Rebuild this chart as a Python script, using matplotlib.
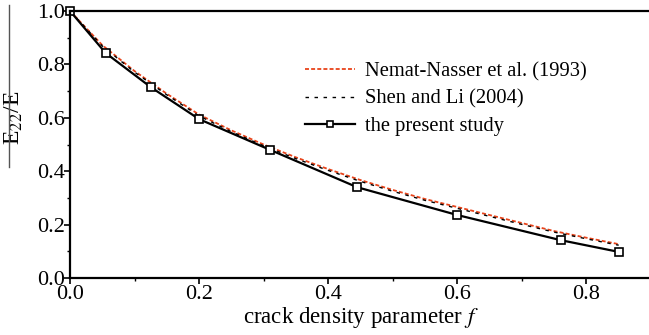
import matplotlib
matplotlib.use("Agg")
import matplotlib.pyplot as plt
from matplotlib.ticker import MultipleLocator
from matplotlib.lines import Line2D

# present study (markers)
f_present = [0.0, 0.055, 0.125, 0.2, 0.31, 0.445, 0.6, 0.76, 0.85]
e_present = [1.0, 0.843, 0.715, 0.595, 0.48, 0.34, 0.236, 0.142, 0.098]

# theory curves
f_theory = [0.0, 0.05, 0.1, 0.15, 0.2, 0.25, 0.3, 0.35, 0.4, 0.45,
            0.5, 0.55, 0.6, 0.65, 0.7, 0.75, 0.8, 0.85]
e_nemat = [1.0, 0.872, 0.775, 0.69, 0.612, 0.553, 0.5, 0.452, 0.408, 0.367,
           0.33, 0.296, 0.266, 0.236, 0.206, 0.176, 0.151, 0.127]
e_shen = [1.0, 0.869, 0.771, 0.686, 0.607, 0.548, 0.495, 0.447, 0.403, 0.362,
          0.325, 0.291, 0.261, 0.231, 0.201, 0.172, 0.147, 0.123]

labels = ["Nemat-Nasser et al. (1993)", "Shen and Li (2004)", "the present study"]

plt.rcParams['font.family'] = ['Liberation Serif', 'DejaVu Serif']
plt.rcParams['mathtext.fontset'] = 'stix'

fig = plt.figure(figsize=(6.49, 3.35), dpi=100)
ax = fig.add_axes([0.108, 0.170, 0.895, 0.797])

red = '#e8431a'
ax.plot(f_theory, e_nemat, color=red, linestyle=(0, (2.2, 1.2)), linewidth=1.3)
ax.plot(f_theory, e_shen, color='black', linestyle=(0, (2.5, 4.0)), linewidth=1.0)
ax.plot(f_present, e_present, color='black', linewidth=1.6, marker='s',
        markersize=6, markerfacecolor='white', markeredgewidth=1.2, clip_on=False)

ax.set_xlim(0, 0.9)
ax.set_ylim(0, 1.0)
ax.xaxis.set_major_locator(MultipleLocator(0.2))
ax.xaxis.set_minor_locator(MultipleLocator(0.1))
ax.yaxis.set_major_locator(MultipleLocator(0.2))
ax.yaxis.set_minor_locator(MultipleLocator(0.1))
ax.xaxis.set_major_formatter(plt.FormatStrFormatter('%.1f'))
ax.yaxis.set_major_formatter(plt.FormatStrFormatter('%.1f'))
ax.tick_params(which='major', direction='out', length=4, width=1.2, labelsize=16, pad=0)
ax.tick_params(axis='x', which='major', pad=1)
ax.tick_params(which='minor', direction='out', length=2, width=1.0)
ax.spines['right'].set_visible(False)
for s in ['left', 'bottom', 'top']:
    ax.spines[s].set_linewidth(1.6)

ax.set_xlabel("crack density parameter $\\mathit{f}$", fontsize=16.5, labelpad=1)
ax.set_ylabel("E$_{22}$/E", fontsize=17)
ax.yaxis.set_label_coords(-0.077, 0.6)

# stray rule left of the y label
fig.add_artist(Line2D([9 / 649, 9 / 649], [1 - 5 / 335, 1 - 167 / 335],
                      color='#555555', linewidth=1.0))

handles = [
    Line2D([], [], color=red, linestyle=(0, (2.2, 1.2)), linewidth=1.3),
    Line2D([], [], color='black', linestyle=(0, (2.5, 4.0)), linewidth=1.0),
    Line2D([], [], color='black', linewidth=1.6, marker='s', markersize=5,
           markerfacecolor='white', markeredgewidth=1.2),
]
ax.legend(handles, labels, loc='upper left', bbox_to_anchor=(0.391, 0.841),
          frameon=False, fontsize=14.8, handlelength=2.4, handletextpad=0.5,
          labelspacing=0.4, borderaxespad=0)

fig.savefig("out.png", dpi=100)
